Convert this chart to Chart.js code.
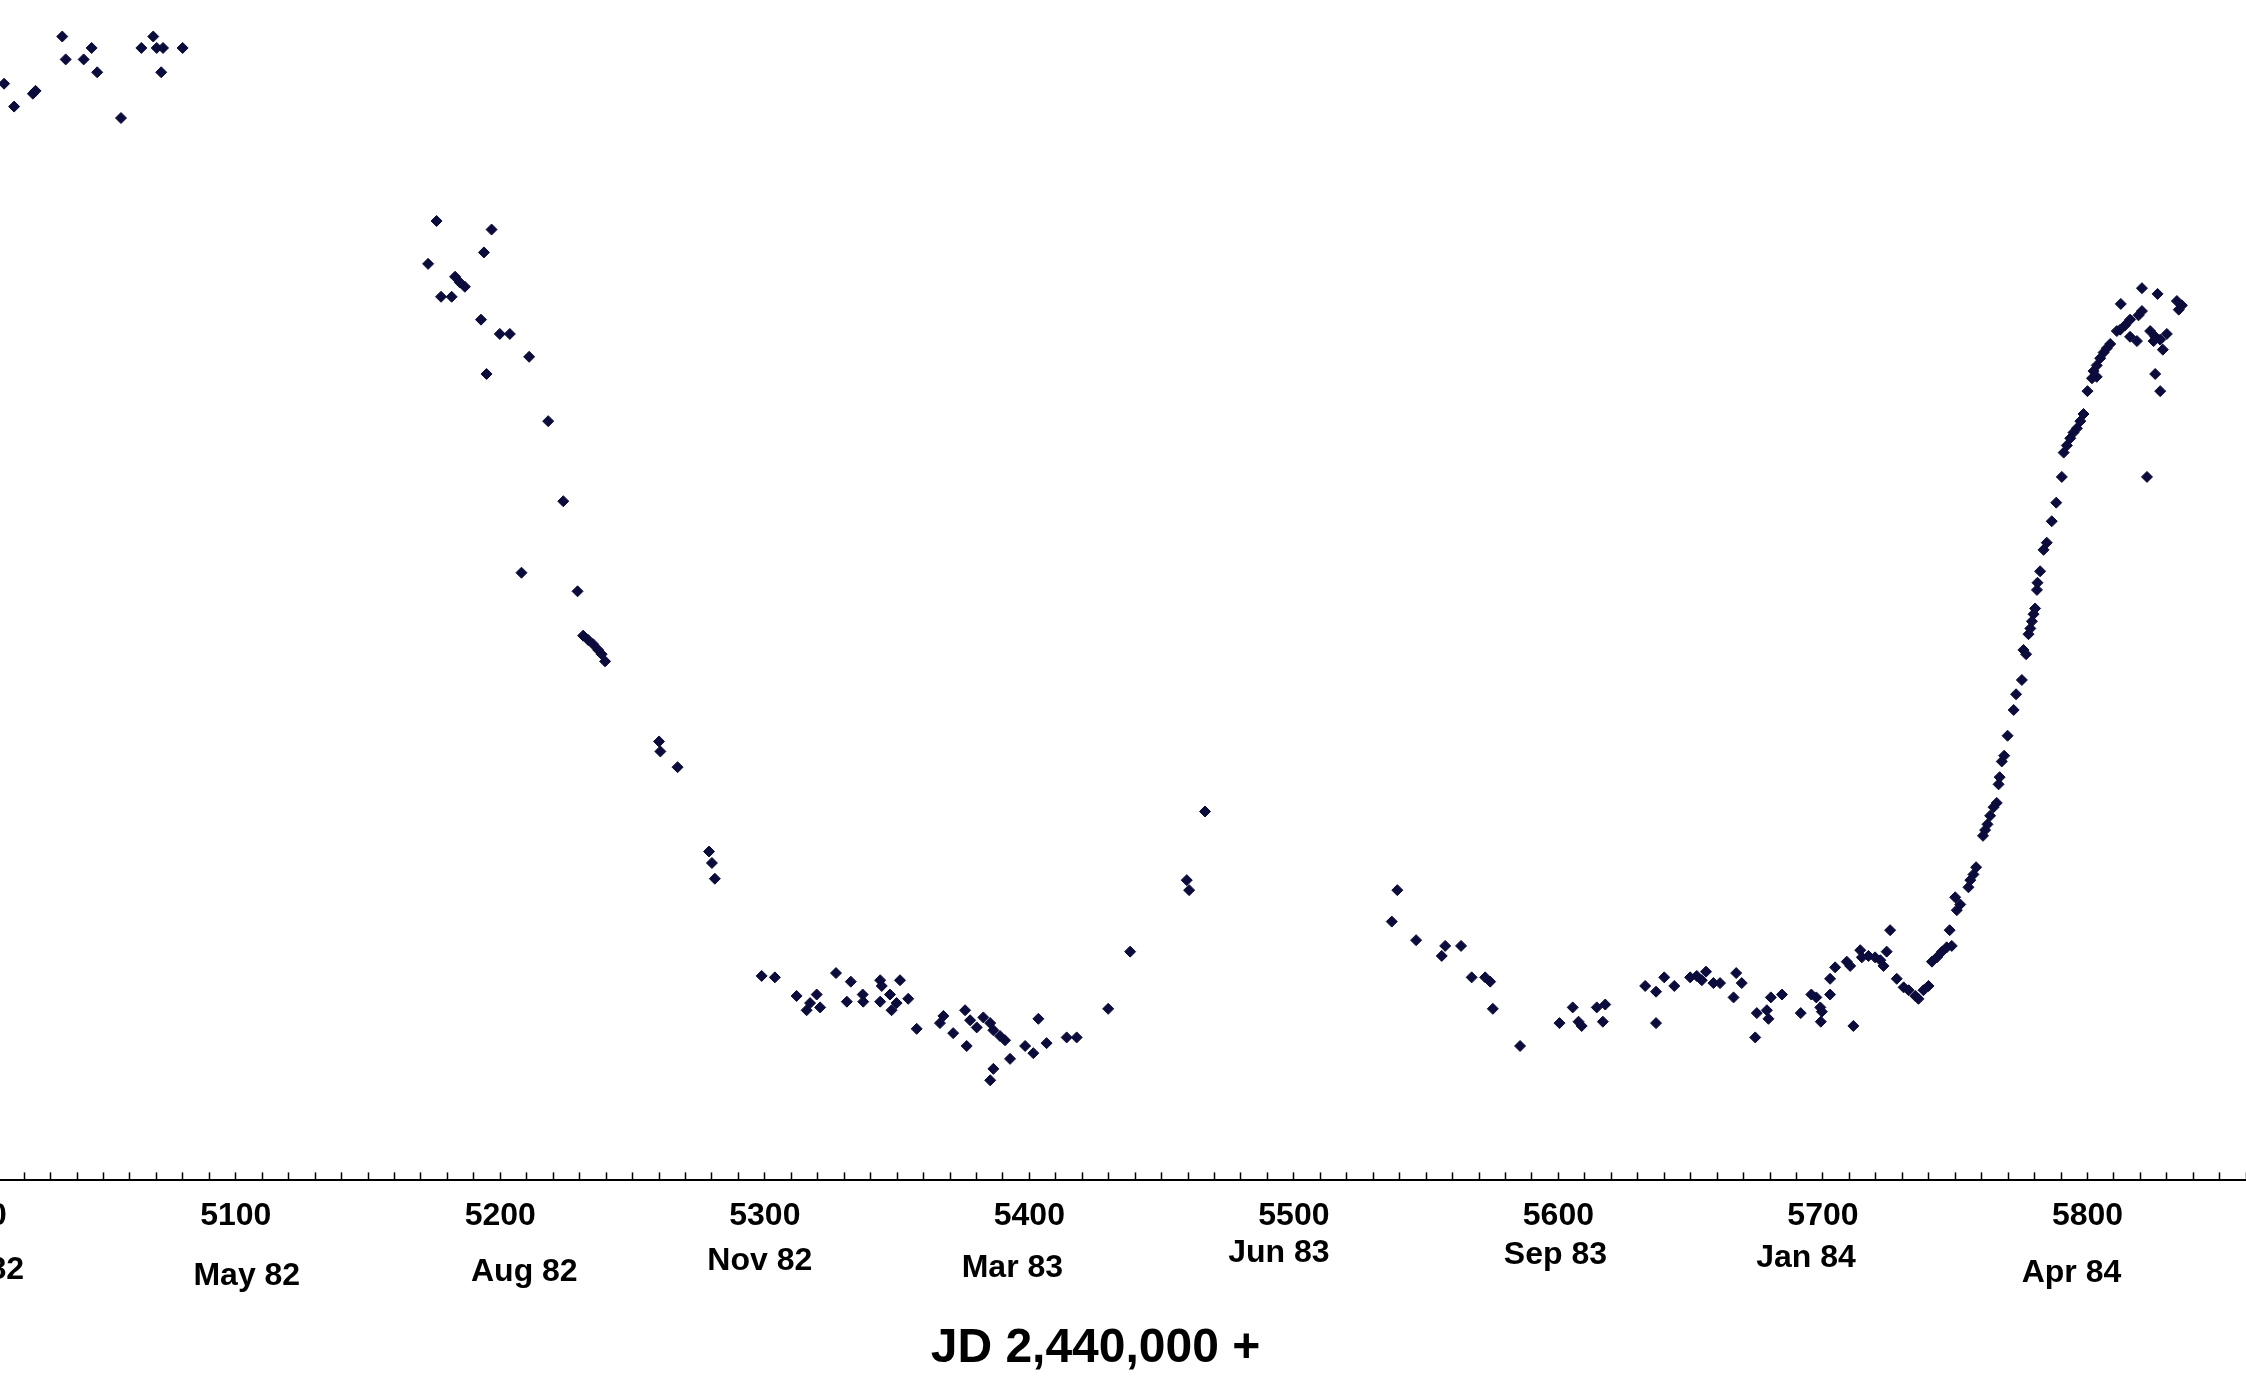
<!DOCTYPE html>
<html>
<head>
<meta charset="utf-8">
<title>Light curve 1982-1984</title>
<script src="https://cdn.jsdelivr.net/npm/chart.js@4.4.1/dist/chart.umd.min.js"></script>
<style>
  html, body { margin: 0; padding: 0; background: #ffffff; overflow: hidden; }
  /* the plot is cropped: the magnitude axis sits off-screen on the left */
  #curva { position: absolute; left: -182px; top: 0; }
</style>
</head>
<body>
<canvas id="curva" width="2555" height="1382"></canvas>
<script>
// --- data (JD - 2,440,000 and magnitude) ---

// 1982, before the eclipse
const jdSeason1 = [5012.4, 5016.2, 5023.3, 5024.3, 5034.4, 5035.7, 5042.5, 5045.5,
  5047.6, 5056.6, 5064.3, 5068.8, 5070.1, 5071.8, 5072.5, 5079.9];
const magSeason1 = [2.983, 2.999, 2.990, 2.988, 2.950, 2.966, 2.966, 2.958,
  2.975, 3.007, 2.958, 2.950, 2.958, 2.975, 2.958, 2.958];

// 1982-83: ingress and first part of totality
const jdSeason2 = [5172.7, 5175.9, 5177.6, 5181.6, 5182.9, 5184.7, 5186.6, 5192.7,
  5193.8, 5194.8, 5196.7, 5199.8, 5203.6, 5208.0, 5210.9, 5218.1, 5223.8, 5229.2,
  5231.3, 5233.2, 5235.1, 5237.0, 5238.3, 5239.6, 5260.0, 5260.5, 5267.0, 5278.9,
  5280.0, 5281.1,
  5298.8, 5303.8, 5312.0, 5315.8, 5317.1, 5319.6, 5320.9, 5326.9, 5332.5, 5331.0,
  5337.0, 5337.2, 5343.6, 5344.2, 5343.6, 5347.3, 5347.9, 5351.1, 5349.8, 5354.2,
  5357.4, 5367.5, 5366.2, 5371.2, 5375.7, 5376.3, 5377.6, 5380.1, 5382.6, 5385.2,
  5386.4, 5388.9, 5390.8, 5386.4, 5385.2, 5392.7, 5398.4, 5401.5, 5406.5, 5403.4,
  5414.1, 5417.9, 5429.8, 5438.1, 5459.5, 5460.4, 5466.4];
const magSeason2 = [3.109, 3.079, 3.132, 3.132, 3.118, 3.122, 3.125, 3.148,
  3.101, 3.186, 3.085, 3.158, 3.158, 3.325, 3.174, 3.219, 3.275, 3.338,
  3.369, 3.372, 3.375, 3.379, 3.382, 3.387, 3.443, 3.450, 3.461, 3.520,
  3.528, 3.539,
  3.607, 3.608, 3.621, 3.631, 3.626, 3.620, 3.629, 3.605, 3.611, 3.625,
  3.620, 3.625, 3.610, 3.614, 3.625, 3.620, 3.631, 3.610, 3.626, 3.623,
  3.644, 3.635, 3.640, 3.647, 3.631, 3.656, 3.638, 3.643, 3.636, 3.640,
  3.645, 3.649, 3.652, 3.672, 3.680, 3.665, 3.656, 3.661, 3.654, 3.637,
  3.650, 3.650, 3.630, 3.590, 3.540, 3.547, 3.492];

// 1983-84: end of totality and egress
const jdSeason3 = [5537.0, 5539.1, 5546.2, 5555.9, 5557.2, 5563.2, 5567.2, 5572.3,
  5574.2, 5575.2, 5585.5, 5600.4, 5605.4, 5607.6, 5608.8, 5614.5, 5616.8, 5617.7,
  5632.8, 5636.9, 5636.9, 5640.0, 5643.8, 5649.8, 5652.3, 5654.2, 5655.8, 5658.6,
  5661.1, 5666.2, 5667.2, 5669.3, 5674.4, 5675.0, 5678.8, 5679.4, 5680.3, 5684.5,
  5691.6, 5695.6, 5697.5, 5699.0, 5699.6, 5699.2, 5702.7, 5702.7, 5704.6, 5709.0,
  5710.3, 5711.5, 5714.1, 5714.7, 5717.2, 5719.7, 5721.7, 5722.9, 5724.1, 5725.4,
  5727.9, 5730.5, 5732.4, 5734.9, 5736.1, 5738.0, 5739.9, 5741.2, 5743.1, 5745.0,
  5746.8, 5748.7, 5747.9, 5750.0, 5750.6, 5751.9, 5755.0, 5755.7, 5756.9, 5757.9,
  5760.5, 5761.3, 5762.2, 5763.2, 5764.5, 5765.7, 5766.4, 5766.8, 5767.6, 5768.5,
  5769.8, 5772.1, 5773.0, 5775.2, 5775.8, 5776.8, 5777.7, 5778.4, 5779.0, 5779.6,
  5780.2, 5780.9, 5781.1, 5782.1, 5783.4, 5784.6, 5786.5, 5788.2, 5790.3, 5791.0,
  5792.2, 5793.5, 5794.7, 5796.0, 5797.3, 5798.5, 5800.0, 5801.7, 5802.3, 5803.5,
  5803.5, 5804.8, 5806.1, 5807.3, 5808.6, 5811.1, 5812.4, 5812.6, 5814.2, 5816.1,
  5816.1, 5818.7, 5819.3, 5820.6, 5820.6, 5822.5, 5823.7, 5825.0, 5825.6, 5825.6,
  5826.5, 5827.5, 5827.5, 5828.5, 5830.0, 5833.8, 5834.5, 5835.7];
const magSeason3 = [3.569, 3.547, 3.582, 3.593, 3.586, 3.586, 3.608, 3.608,
  3.611, 3.630, 3.656, 3.640, 3.629, 3.639, 3.642, 3.629, 3.639, 3.627,
  3.614, 3.618, 3.640, 3.608, 3.614, 3.608, 3.607, 3.610, 3.604, 3.612,
  3.612, 3.622, 3.605, 3.612, 3.650, 3.633, 3.631, 3.637, 3.622, 3.620,
  3.633, 3.620, 3.622, 3.629, 3.632, 3.639, 3.620, 3.609, 3.601, 3.597,
  3.600, 3.642, 3.589, 3.594, 3.593, 3.594, 3.596, 3.600, 3.590, 3.575,
  3.609, 3.615, 3.617, 3.621, 3.623, 3.617, 3.614, 3.597, 3.594, 3.590,
  3.587, 3.586, 3.575, 3.552, 3.561, 3.557, 3.545, 3.540, 3.536, 3.531,
  3.509, 3.505, 3.501, 3.495, 3.489, 3.486, 3.473, 3.468, 3.457, 3.453,
  3.439, 3.421, 3.410, 3.400, 3.379, 3.382, 3.368, 3.364, 3.359, 3.354,
  3.350, 3.337, 3.332, 3.324, 3.309, 3.304, 3.289, 3.276, 3.258, 3.241,
  3.236, 3.231, 3.227, 3.224, 3.219, 3.214, 3.198, 3.189, 3.184, 3.180,
  3.188, 3.175, 3.171, 3.168, 3.165, 3.156, 3.155, 3.137, 3.152, 3.148,
  3.160, 3.163, 3.145, 3.142, 3.126, 3.258, 3.156, 3.163, 3.160, 3.186,
  3.130, 3.162, 3.198, 3.169, 3.158, 3.135, 3.141, 3.138];

// labelled ticks and the month written under each one
const tickValues = [5000, 5100, 5200, 5300, 5400, 5500, 5600, 5700, 5800];
const monthLabels = ['Jan 82', 'May 82', 'Aug 82', 'Nov 82', 'Mar 83', 'Jun 83', 'Sep 83', 'Jan 84', 'Apr 84'];

// the month labels were placed by hand in the original: shift from the tick (px)
const monthShiftX = [3, 11, 24, -5, -17, -15, -3, -17, -16];
const monthShiftY = [90, 96, 92, 81, 88, 73, 75, 78, 93];

// --- build the points ---
function juntarPontos(jd, mag) {
  return jd.map((x, i) => ({ x: x, y: mag[i] }));
}
const pontos = [].concat(
  juntarPontos(jdSeason1, magSeason1),
  juntarPontos(jdSeason2, magSeason2),
  juntarPontos(jdSeason3, magSeason3)
);

const corPonto = '#0c0c3c';
const fonte = "'Liberation Sans', Arial, Helvetica, sans-serif";

// writes the month under each labelled tick, using the x scale for the position
const rotulosMeses = {
  id: 'rotulosMeses',
  afterDraw(chart) {
    const escala = chart.scales.x;
    const c = chart.ctx;
    c.save();
    c.font = 'bold 32px ' + fonte;
    c.fillStyle = '#000000';
    c.textAlign = 'center';
    c.textBaseline = 'middle';
    tickValues.forEach((v, i) => {
      c.fillText(monthLabels[i], escala.getPixelForValue(v) + monthShiftX[i], escala.top + monthShiftY[i]);
    });
    c.restore();
  }
};

const contexto = document.getElementById('curva').getContext('2d');
const grafico = new Chart(contexto, {
  type: 'scatter',
  data: {
    datasets: [{
      label: 'V',
      data: pontos,
      pointStyle: 'rectRot',
      pointRadius: 5.5,
      pointBorderWidth: 1,
      backgroundColor: corPonto,
      borderColor: corPonto
    }]
  },
  options: {
    responsive: false,
    animation: false,
    layout: { padding: 0 },
    plugins: {
      legend: { display: false },
      tooltip: { enabled: false }
    },
    scales: {
      x: {
        type: 'linear',
        position: 'bottom',
        min: 4950,
        max: 5900,
        border: { display: true, color: '#000000', width: 2 },
        grid: {
          drawOnChartArea: false,
          drawTicks: true,
          tickLength: -8,   // negative: ticks point up into the plot
          tickColor: '#000000',
          tickWidth: 1.5
        },
        ticks: {
          stepSize: 10,
          autoSkip: false,
          maxRotation: 0,
          minRotation: 0,
          padding: 21,
          color: '#000000',
          font: { family: fonte, size: 32, weight: 'bold', lineHeight: 1.4375 },
          callback: function (valor) {
            const v = Math.round(valor);
            return tickValues.includes(v) ? String(v) : '';
          }
        },
        title: {
          display: true,
          text: 'JD 2,440,000 +',
          color: '#000000',
          font: { family: fonte, size: 48, weight: 'bold', lineHeight: 1.2 },
          padding: { top: 60, bottom: 4 }
        }
      },
      y: {
        display: false,
        reverse: true,
        min: 2.929,
        max: 3.75
      }
    }
  },
  plugins: [rotulosMeses]
});
</script>
</body>
</html>
